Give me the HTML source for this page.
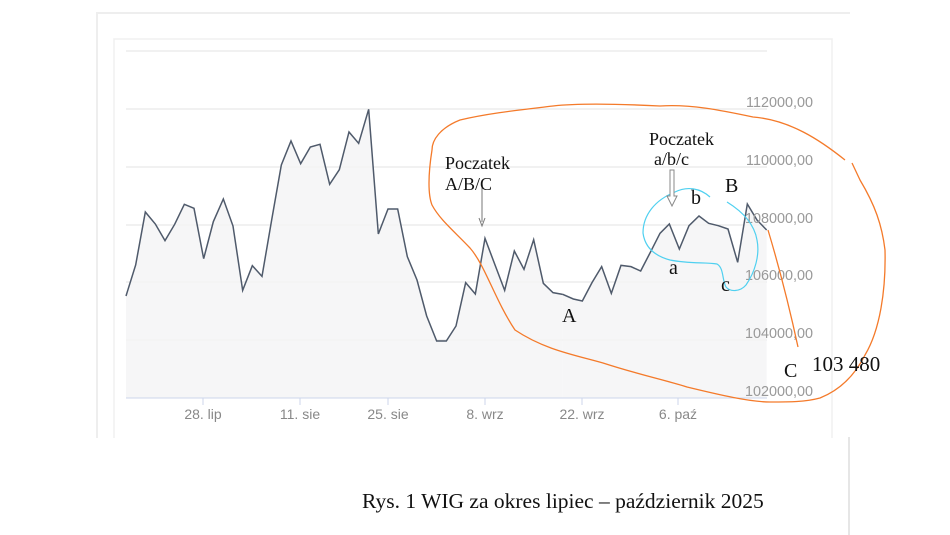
<!DOCTYPE html>
<html><head><meta charset="utf-8"><style>
html,body{margin:0;padding:0;background:#fff;width:950px;height:535px;overflow:hidden}
svg{position:absolute;left:0;top:0}
.s{font-family:"Liberation Serif",serif;fill:#111}
.y{font-family:"Liberation Sans",sans-serif;font-size:14.4px;fill:#999;text-anchor:end}
.x{font-family:"Liberation Sans",sans-serif;font-size:14px;fill:#888;text-anchor:middle}
</style></head><body>
<svg width="950" height="535" viewBox="0 0 950 535">
<path d="M97,438 V13 H850" fill="none" stroke="#eee" stroke-width="2"/>
<path d="M114,438 V39 H832 V438" fill="none" stroke="#f0f0f0" stroke-width="1.5"/>
<line x1="849" y1="437" x2="849" y2="535" stroke="#ccc"/>
<g stroke="#e3e3e3" stroke-width="1">
<line x1="126" y1="51" x2="767" y2="51"/><line x1="126" y1="109" x2="767" y2="109"/>
<line x1="126" y1="167" x2="767" y2="167"/><line x1="126" y1="225" x2="767" y2="225"/>
<line x1="126" y1="282" x2="767" y2="282"/><line x1="126" y1="340" x2="767" y2="340"/>
</g>
<g transform="translate(90,0) scale(0.33333)">
<polygon fill="#f4f4f5" fill-opacity="0.8" points="108,1194 108,888 137,795 166,636 196,672 225,722 254,673 283,613 312,625 341,776 370,665 400,597 429,678 458,871 487,797 516,829 545,660 574,495 603,423 632,491 661,441 690,433 719,553 748,509 777,396 806,430 836,328 865,702 894,627 923,627 952,770 981,840 1010,948 1040,1023 1069,1023 1098,978 1127,848 1156,882 1185,715 1214,792 1244,871 1273,753 1302,808 1331,719 1360,850 1389,878 1418,883 1418,1194"/>
<polyline fill="none" stroke="#4f5a6b" stroke-width="4.5" points="108,888 137,795 166,636 196,672 225,722 254,673 283,613 312,625 341,776 370,665 400,597 429,678 458,871 487,797 516,829 545,660 574,495 603,423 632,491 661,441 690,433 719,553 748,509 777,396 806,430 836,328 865,702 894,627 923,627 952,770 981,840 1010,948 1040,1023 1069,1023 1098,978 1127,848 1156,882 1185,715 1214,792 1244,871 1273,753 1302,808 1331,719 1360,850 1389,878 1418,883"/>
</g>
<g transform="translate(420,80) scale(0.33333)">
<polygon fill="#f4f4f5" fill-opacity="0.8" points="428,954 428,643 460,657 487,663 516,608 545,560 574,640 603,556 633,560 662,573 692,515 720,460 748,432 778,507 807,437 837,408 866,430 895,437 924,447 953,547 982,372 1011,420 1040,450 1040,954"/>
<polyline fill="none" stroke="#4f5a6b" stroke-width="4.5" points="428,643 460,657 487,663 516,608 545,560 574,640 603,556 633,560 662,573 692,515 720,460 748,432 778,507 807,437 837,408 866,430 895,437 924,447 953,547 982,372 1011,420 1040,450"/>
</g>
<line x1="126" y1="398" x2="767" y2="398" stroke="#ccd6eb"/>
<g stroke="#ccd6eb"><line x1="203" y1="398" x2="203" y2="405"/><line x1="300" y1="398" x2="300" y2="405"/><line x1="388" y1="398" x2="388" y2="405"/><line x1="485" y1="398" x2="485" y2="405"/><line x1="582" y1="398" x2="582" y2="405"/><line x1="678" y1="398" x2="678" y2="405"/></g>
<text class="x" x="203" y="419">28. lip</text><text class="x" x="300" y="419">11. sie</text><text class="x" x="388" y="419">25. sie</text><text class="x" x="485" y="419">8. wrz</text><text class="x" x="582" y="419">22. wrz</text><text class="x" x="678" y="419">6. paź</text>
<text class="y" x="813" y="107">112000,00</text><text class="y" x="813" y="165">110000,00</text><text class="y" x="813" y="223">108000,00</text><text class="y" x="813" y="280">106000,00</text><text class="y" x="813" y="338">104000,00</text><text class="y" x="813" y="396">102000,00</text>
<path d="M845,160 C820,140 790,120 753,117 C720,110 690,104 660,106 C620,104 580,103 553,106 C520,110 490,113 460,120 C440,128 432,140 432,150 C428,175 428,195 432,205 C440,220 455,232 470,248 C485,265 495,300 515,330 C545,350 575,355 603,363 C640,375 665,380 687,387 C720,395 750,402 770,402 C790,402 805,402 820,398 C840,390 855,375 865,355 C880,330 886,290 885,250 C882,225 875,205 860,180 L852,163" fill="none" stroke="#f47a2a" stroke-width="1.3"/>
<path d="M768,230 C780,270 790,310 798,347" fill="none" stroke="#f47a2a" stroke-width="1.3"/>
<path d="M710,197 C700,188 687,186 675,192 C655,200 643,215 643,233 C645,248 655,256 670,260 C690,264 705,262 717,264 C724,268 722,280 726,287 C730,292 740,292 746,285 C755,272 760,255 757,240 C754,222 740,210 727,202" fill="none" stroke="#4fd0f0" stroke-width="1.2"/>
<line x1="482" y1="186" x2="482" y2="222" stroke="#777"/><path d="M479,218 L482,226 L485,218" fill="none" stroke="#777"/>
<path d="M670,170 V196 H667 L672,206 L677,196 H674 V170 Z" fill="#fff" stroke="#888"/>
<text class="s" x="445" y="169" font-size="18">Poczatek</text><text class="s" x="445" y="190" font-size="18">A/B/C</text>
<text class="s" x="649" y="145" font-size="18">Poczatek</text><text class="s" x="654" y="165" font-size="18">a/b/c</text>
<text class="s" x="691" y="204" font-size="20">b</text><text class="s" x="725" y="192" font-size="20">B</text>
<text class="s" x="669" y="274" font-size="20">a</text><text class="s" x="721" y="291" font-size="20">c</text>
<text class="s" x="562" y="322" font-size="20">A</text><text class="s" x="784" y="377" font-size="20">C</text>
<text class="s" x="812" y="371" font-size="21">103 480</text>
<text class="s" x="362" y="508" font-size="21.5">Rys. 1 WIG za okres lipiec – październik 2025</text>
</svg>
</body></html>
